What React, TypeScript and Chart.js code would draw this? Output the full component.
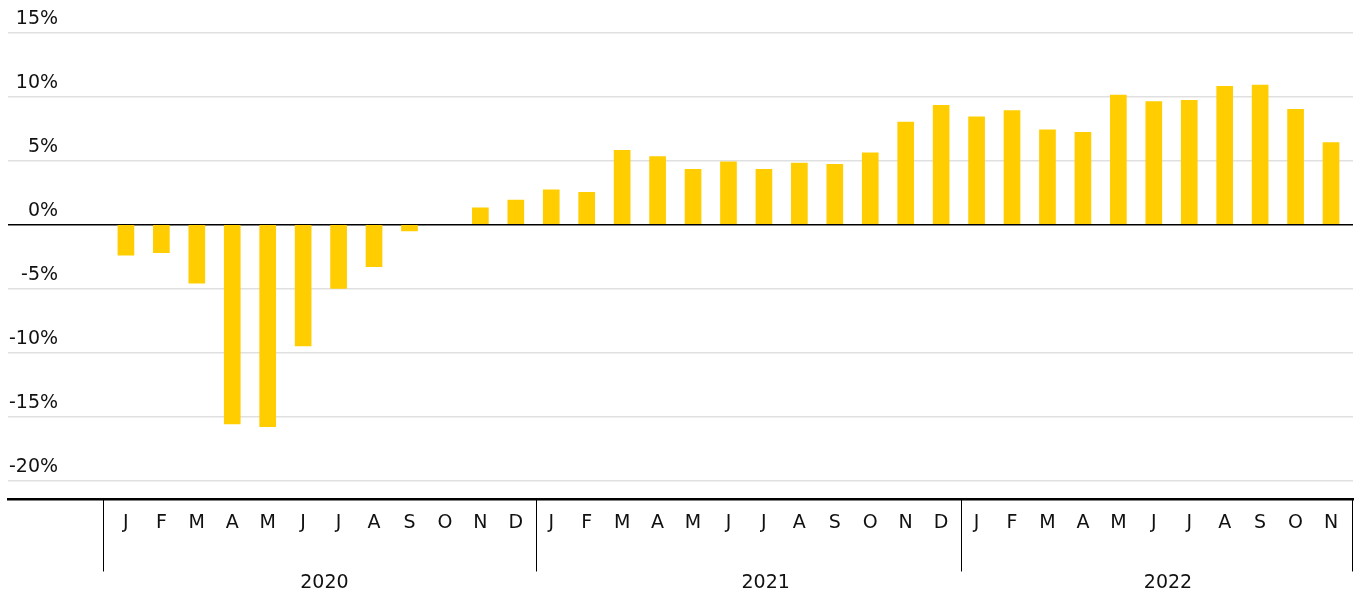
import React, { useEffect, useRef } from "react";
import { Chart, registerables } from "chart.js";

Chart.register(...registerables);

// ---- data ----
const monthLetters = [
  "J", "F", "M", "A", "M", "J", "J", "A", "S", "O", "N", "D",
  "J", "F", "M", "A", "M", "J", "J", "A", "S", "O", "N", "D",
  "J", "F", "M", "A", "M", "J", "J", "A", "S", "O", "N",
];
const values2020 = [-2.4, -2.2, -4.6, -15.6, -15.8, -9.5, -5.0, -3.3, -0.5, 0, 1.3, 1.9];
const values2021 = [2.7, 2.5, 5.8, 5.3, 4.3, 4.9, 4.3, 4.8, 4.7, 5.6, 8.0, 9.3];
const values2022 = [8.4, 8.9, 7.4, 7.2, 10.1, 9.6, 9.7, 10.8, 10.9, 9.0, 6.4];
const years = ["2020", "2021", "2022"];
const yearStartIndex = [0, 12, 24];
const yTicks = [-20, -15, -10, -5, 0, 5, 10, 15];

// ---- style ----
const FONT = "'DejaVu Sans', Verdana, sans-serif";
const FONT_SIZE = 19;
const BAR_COLOR = "#FFCD00";
const TEXT_COLOR = "#111111";
const GRID_COLOR = "#e0e0e0";
const yearLabelOffset = [5.6, 6.05, 5.4];

export default function App() {
  const canvasRef = useRef<HTMLCanvasElement | null>(null);

  useEffect(() => {
    const canvas = canvasRef.current;
    if (!canvas) return;
    const allValues = [...values2020, ...values2021, ...values2022];
    const points = allValues.map((v, i) => ({ x: i, y: v }));

    const zeroLinePlugin = {
      id: "zeroLine",
      afterDatasetsDraw(chart: any) {
        const { ctx, chartArea } = chart;
        const y0 = Math.round(chart.scales.y.getPixelForValue(0)) + 0.5;
        ctx.save();
        ctx.strokeStyle = "#000";
        ctx.lineWidth = 1;
        ctx.beginPath();
        ctx.moveTo(chartArea.left, y0);
        ctx.lineTo(chartArea.right, y0);
        ctx.stroke();
        ctx.restore();
      },
    };

    const bottomPlugin = {
      id: "yearGroups",
      afterDraw(chart: any) {
        const { ctx, chartArea } = chart;
        const xs = chart.scales.x;
        ctx.save();
        ctx.strokeStyle = "#000";
        ctx.lineWidth = 1;
        const sepXs: number[] = [];
        yearStartIndex.forEach((s, k) => {
          if (k === 0) sepXs.push(xs.getPixelForValue(s - 0.5) - 5);
          else sepXs.push(xs.getPixelForValue(s - 0.5) + 2);
        });
        sepXs.push(chartArea.right - 1);
        sepXs.forEach((sx) => {
          const px = Math.round(sx) + 0.5;
          ctx.beginPath();
          ctx.moveTo(px, chartArea.bottom);
          ctx.lineTo(px, chartArea.bottom + 72);
          ctx.stroke();
        });
        ctx.fillStyle = TEXT_COLOR;
        ctx.font = `${FONT_SIZE}px ${FONT}`;
        ctx.textAlign = "center";
        ctx.textBaseline = "middle";
        years.forEach((y, k) => {
          const px = xs.getPixelForValue(yearStartIndex[k] + yearLabelOffset[k]);
          ctx.fillText(y, px, chartArea.bottom + 83.5);
        });
        ctx.restore();
      },
    };

    const chart = new Chart(canvas, {
      type: "bar",
      data: {
        datasets: [
          {
            data: points as any,
            backgroundColor: BAR_COLOR,
            borderWidth: 0,
            barThickness: 16,
          },
        ],
      },
      options: {
        animation: false,
        responsive: true,
        maintainAspectRatio: false,
        layout: { padding: { left: 6, right: 6, top: 32.5, bottom: 49.7 } },
        plugins: {
          legend: { display: false },
          tooltip: { enabled: false },
        },
        scales: {
          x: {
            type: "linear",
            offset: false,
            min: -3.327,
            max: 34.62,
            position: "bottom",
            grid: { display: false, drawTicks: false, offset: false },
            border: { display: true, color: "#000", width: 2.5 },
            ticks: {
              stepSize: 1,
              autoSkip: false,
              maxRotation: 0,
              minRotation: 0,
              includeBounds: false,
              padding: 12,
              color: TEXT_COLOR,
              font: { family: FONT, size: FONT_SIZE },
              callback: (v: any) => {
                const n = Number(v);
                return Number.isInteger(n) && n >= 0 && n < monthLetters.length
                  ? monthLetters[n]
                  : "";
              },
            },
          },
          y: {
            type: "linear",
            min: -21.5,
            max: 15,
            position: "left",
            grid: {
              drawTicks: false,
              color: (c: any) => (c.tick && c.tick.value === 0 ? "#000" : GRID_COLOR),
              lineWidth: 1.5,
            },
            border: { display: false },
            afterBuildTicks: (axis: any) => {
              axis.ticks = yTicks.map((v) => ({ value: v }));
            },
            ticks: {
              mirror: true,
              crossAlign: "far",
              padding: 1,
              labelOffset: -13,
              color: TEXT_COLOR,
              font: { family: FONT, size: FONT_SIZE },
              callback: (v: any) => `${v}%`,
            },
          },
        },
      },
      plugins: [zeroLinePlugin, bottomPlugin],
    });
    return () => chart.destroy();
  }, []);

  return (
    <div style={{ position: "absolute", left: 0, top: 0, width: 1359, height: 596, background: "#fff" }}>
      <canvas ref={canvasRef} />
    </div>
  );
}
